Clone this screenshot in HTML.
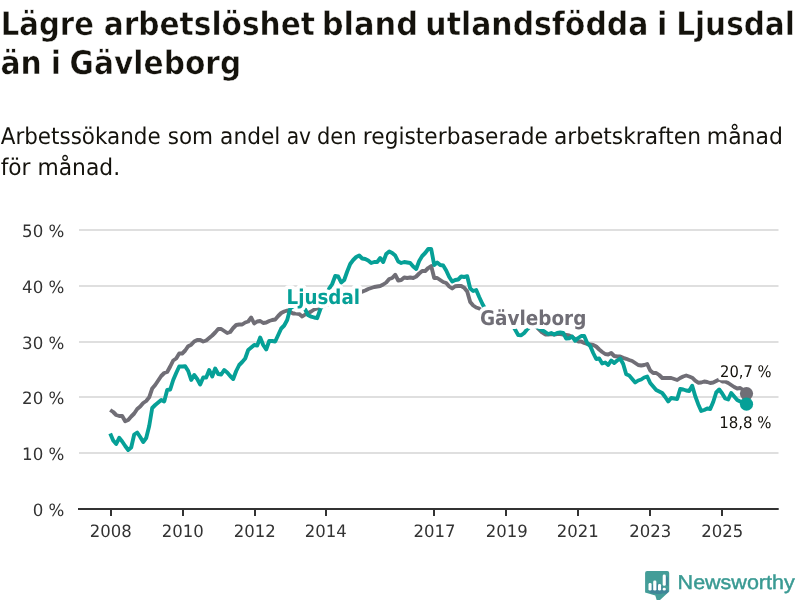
<!DOCTYPE html>
<html lang="sv"><head><meta charset="utf-8"><title>Lägre arbetslöshet bland utlandsfödda i Ljusdal än i Gävleborg</title>
<style>
html,body{margin:0;padding:0;background:#fff;width:800px;height:600px;overflow:hidden}
svg{display:block;will-change:transform;text-rendering:geometricPrecision;font-family:"DejaVu Sans","Liberation Sans",sans-serif}
.title{font-weight:bold;font-size:32.6px;fill:#14120c;stroke:#fff;stroke-width:0.5}
.sub{font-size:23px;fill:#14120c}
.tick{font-size:17px;fill:#333}
.grid rect{fill:#dfdfdf}
.axis rect{fill:#333}
.ln{fill:none;stroke-width:3.9;stroke-linejoin:round;stroke-linecap:butt}
.lab{font-weight:bold;font-size:20.3px;paint-order:stroke;stroke:#fff;stroke-width:7.8;stroke-linejoin:round}
.ann{font-size:16px;fill:#14120c;paint-order:stroke;stroke:#fff;stroke-width:6.5;stroke-linejoin:round}
.logo{font-family:"Liberation Sans",sans-serif;font-size:20px;fill:#3a9a93;stroke:#3a9a93;stroke-width:0.45}
</style></head><body>
<svg width="800" height="600" viewBox="0 0 800 600">
<g class="grid"><rect x="79" y="452" width="699.5" height="2"/><rect x="79" y="396" width="699.5" height="2"/><rect x="79" y="341" width="699.5" height="2"/><rect x="79" y="285" width="699.5" height="2"/><rect x="79" y="229" width="699.5" height="2"/></g>
<g class="axis"><rect x="78" y="508" width="700.7" height="2"/><rect x="110" y="509" width="2" height="7"/><rect x="182" y="509" width="2" height="7"/><rect x="254" y="509" width="2" height="7"/><rect x="325" y="509" width="2" height="7"/><rect x="433" y="509" width="2" height="7"/><rect x="505" y="509" width="2" height="7"/><rect x="577" y="509" width="2" height="7"/><rect x="649" y="509" width="2" height="7"/><rect x="721" y="509" width="2" height="7"/></g>
<polyline class="ln" stroke="#706e76" points="110.2,410.0 113.2,412.0 116.2,415.0 119.2,416.0 122.2,416.0 125.2,421.2 128.2,420.0 131.2,416.5 134.2,413.5 137.2,409.0 140.2,406.5 143.2,403.0 146.2,401.0 149.2,397.3 152.2,388.5 155.2,385.0 158.2,380.5 161.2,376.0 164.2,373.0 167.2,372.0 170.2,366.5 173.2,360.5 176.2,358.5 179.2,353.5 182.2,353.5 185.2,350.5 188.2,346.2 191.2,344.7 194.2,341.5 197.2,340.0 200.2,340.0 203.2,341.5 206.2,340.5 209.2,338.0 212.2,335.5 215.2,332.5 218.2,329.0 221.2,329.0 224.2,331.0 227.2,333.0 230.2,332.0 233.2,328.0 236.2,325.0 239.2,324.5 242.2,324.5 245.2,322.5 248.2,321.5 251.2,317.5 254.2,323.5 257.2,321.5 260.2,321.0 263.2,323.0 266.2,322.5 269.2,321.0 272.2,320.0 275.2,319.5 278.2,316.0 281.2,313.0 284.2,311.5 287.2,310.5 290.2,312.0 293.2,313.5 296.2,313.5 299.2,314.0 302.2,316.5 305.2,314.5 308.2,313.0 311.2,311.5 314.2,309.5 317.2,308.4 320.2,307.3 323.2,306.1 326.2,305.0 329.2,303.9 332.2,302.8 335.2,301.7 338.2,300.6 341.2,299.4 344.2,298.3 347.2,297.2 350.2,296.1 353.2,295.0 356.2,293.9 359.2,292.7 362.2,291.6 365.2,290.5 368.2,289.0 371.2,288.0 374.2,287.0 377.2,286.5 380.2,286.0 383.2,284.5 386.2,282.5 389.2,279.0 392.2,278.0 395.2,274.7 398.2,280.5 401.2,280.0 404.2,277.5 407.2,278.0 410.2,277.5 413.2,278.0 416.2,276.5 419.2,273.5 422.2,271.0 425.2,271.0 428.2,268.0 431.2,266.0 434.2,278.0 437.2,278.0 440.2,280.0 443.2,282.0 446.2,283.0 449.2,286.5 452.2,288.5 455.2,286.3 458.2,286.0 461.2,286.0 464.2,287.7 467.2,291.5 470.2,302.0 473.2,305.5 476.2,307.5 479.2,308.5 482.2,310.5 485.2,311.4 488.2,312.3 491.2,313.2 494.2,314.1 497.2,314.9 500.2,315.8 503.2,316.7 506.2,317.6 509.2,318.5 512.2,319.4 515.2,320.3 518.2,321.2 521.2,322.1 524.2,322.9 527.2,323.8 530.2,324.7 533.2,325.6 536.2,326.5 539.2,329.5 542.2,332.5 545.2,334.5 548.2,334.5 551.2,334.0 554.2,334.5 557.2,334.0 560.2,334.0 563.2,334.5 566.2,335.0 569.2,335.5 572.2,337.0 575.2,339.0 578.2,341.5 581.2,341.5 584.2,343.0 587.2,344.0 590.2,344.5 593.2,345.0 596.2,346.5 599.2,349.5 602.2,352.0 605.2,354.0 608.2,354.5 611.2,353.0 614.2,356.0 617.2,356.5 620.2,356.5 623.2,357.8 626.2,358.8 629.2,360.0 632.2,361.0 635.2,363.0 638.2,365.0 641.2,365.5 644.2,365.0 647.2,364.0 650.2,370.5 653.2,373.0 656.2,373.0 659.2,375.0 662.2,378.0 665.2,378.0 668.2,378.0 671.2,378.0 674.2,379.0 677.2,380.0 680.2,378.0 683.2,376.5 686.2,375.5 689.2,376.5 692.2,377.7 695.2,380.7 698.2,382.7 701.2,382.5 704.2,381.5 707.2,382.0 710.2,383.0 713.2,382.5 716.2,381.0 719.2,379.5 722.2,381.5 725.2,381.5 728.2,383.0 731.2,385.0 734.2,387.0 737.2,388.5 740.2,388.0 743.2,390.0 746.2,393.0"/>
<polyline class="ln" stroke="#06a097" points="110.2,433.5 113.2,440.5 116.2,444.0 119.2,437.8 122.2,441.5 125.2,446.0 128.2,450.0 131.2,447.5 134.2,434.5 137.2,432.5 140.2,437.0 143.2,442.0 146.2,438.0 149.2,426.0 152.2,408.0 155.2,405.0 158.2,402.5 161.2,400.0 164.2,401.5 167.2,390.0 170.2,389.5 173.2,380.0 176.2,373.0 179.2,366.5 182.2,366.5 185.2,366.2 188.2,371.0 191.2,380.0 194.2,375.0 197.2,379.0 200.2,384.5 203.2,377.5 206.2,377.5 209.2,370.0 212.2,376.5 215.2,368.5 218.2,374.0 221.2,374.5 224.2,370.0 227.2,372.5 230.2,376.0 233.2,379.0 236.2,371.0 239.2,365.0 242.2,362.0 245.2,358.5 248.2,350.0 251.2,347.5 254.2,345.0 257.2,345.5 260.2,337.5 263.2,345.0 266.2,349.5 269.2,341.0 272.2,341.0 275.2,341.5 278.2,335.0 281.2,328.5 284.2,325.5 287.2,320.0 290.2,308.5 293.2,306.5 296.2,306.0 299.2,307.0 302.2,308.0 305.2,309.5 308.2,315.3 311.2,316.6 314.2,317.5 317.2,318.2 320.2,309.5 323.2,303.0 326.2,296.0 329.2,288.5 332.2,284.0 335.2,276.0 338.2,276.5 341.2,282.5 344.2,280.0 347.2,271.5 350.2,264.0 353.2,260.0 356.2,257.0 359.2,255.5 362.2,258.5 365.2,259.0 368.2,260.5 371.2,263.0 374.2,262.0 377.2,262.0 380.2,258.0 383.2,262.0 386.2,254.0 389.2,251.5 392.2,253.0 395.2,255.5 398.2,261.5 401.2,263.0 404.2,262.0 407.2,262.5 410.2,263.0 413.2,266.5 416.2,269.0 419.2,261.0 422.2,256.0 425.2,253.0 428.2,249.0 431.2,249.0 434.2,265.0 437.2,262.5 440.2,265.0 443.2,265.5 446.2,270.5 449.2,277.0 452.2,281.5 455.2,280.0 458.2,279.5 461.2,276.5 464.2,277.0 467.2,276.2 470.2,288.5 473.2,291.0 476.2,290.0 479.2,297.0 482.2,303.5 485.2,309.0 488.2,311.0 491.2,313.0 494.2,315.0 497.2,316.5 500.2,318.0 503.2,319.5 506.2,321.0 509.2,322.5 512.2,324.7 515.2,329.7 518.2,335.0 521.2,335.3 524.2,333.0 527.2,329.3 530.2,326.5 533.2,326.0 536.2,326.5 539.2,328.3 542.2,330.3 545.2,332.0 548.2,334.0 551.2,333.0 554.2,334.5 557.2,333.0 560.2,332.5 563.2,333.0 566.2,338.5 569.2,338.2 572.2,336.5 575.2,340.8 578.2,338.0 581.2,336.0 584.2,336.0 587.2,343.0 590.2,346.0 593.2,353.0 596.2,359.0 599.2,358.5 602.2,363.5 605.2,362.5 608.2,365.0 611.2,360.5 614.2,363.0 617.2,360.5 620.2,358.5 623.2,364.0 626.2,374.2 629.2,375.5 632.2,379.0 635.2,382.5 638.2,380.5 641.2,379.5 644.2,377.5 647.2,376.5 650.2,383.0 653.2,386.5 656.2,390.0 659.2,391.5 662.2,393.0 665.2,397.0 668.2,401.5 671.2,398.0 674.2,398.5 677.2,399.0 680.2,389.0 683.2,389.5 686.2,390.5 689.2,391.0 692.2,385.7 695.2,396.0 698.2,404.2 701.2,411.0 704.2,410.0 707.2,408.5 710.2,409.0 713.2,402.0 716.2,392.5 719.2,389.5 722.2,393.5 725.2,398.5 728.2,399.5 731.2,393.0 734.2,396.5 737.2,400.0 740.2,401.5 743.2,402.0 746.2,404.5"/>
<circle cx="746.5" cy="393.6" r="6.6" fill="#706e76"/>
<circle cx="746.5" cy="404.2" r="6.6" fill="#06a097"/>
<text class="title" x="0.72" y="34.8" textLength="93.17" lengthAdjust="spacingAndGlyphs">Lägre</text>
<text class="title" x="103.67" y="34.8" textLength="211.30" lengthAdjust="spacingAndGlyphs">arbetslöshet</text>
<text class="title" x="321.72" y="34.8" textLength="96.48" lengthAdjust="spacingAndGlyphs">bland</text>
<text class="title" x="425.36" y="34.8" textLength="222.99" lengthAdjust="spacingAndGlyphs">utlandsfödda</text>
<text class="title" x="656.92" y="34.8" textLength="10.42" lengthAdjust="spacingAndGlyphs">i</text>
<text class="title" x="676.19" y="34.8" textLength="118.68" lengthAdjust="spacingAndGlyphs">Ljusdal</text>
<text class="title" x="0.42" y="73.7" textLength="41.30" lengthAdjust="spacingAndGlyphs">än</text>
<text class="title" x="50.77" y="73.7" textLength="10.24" lengthAdjust="spacingAndGlyphs">i</text>
<text class="title" x="69.61" y="73.7" textLength="171.62" lengthAdjust="spacingAndGlyphs">Gävleborg</text>
<text class="sub" x="0.70" y="143.7" textLength="160.03" lengthAdjust="spacingAndGlyphs">Arbetssökande</text>
<text class="sub" x="167.69" y="143.7" textLength="45.41" lengthAdjust="spacingAndGlyphs">som</text>
<text class="sub" x="220.08" y="143.7" textLength="60.28" lengthAdjust="spacingAndGlyphs">andel</text>
<text class="sub" x="286.65" y="143.7" textLength="24.45" lengthAdjust="spacingAndGlyphs">av</text>
<text class="sub" x="316.92" y="143.7" textLength="39.58" lengthAdjust="spacingAndGlyphs">den</text>
<text class="sub" x="362.80" y="143.7" textLength="185.15" lengthAdjust="spacingAndGlyphs">registerbaserade</text>
<text class="sub" x="553.88" y="143.7" textLength="147.07" lengthAdjust="spacingAndGlyphs">arbetskraften</text>
<text class="sub" x="706.78" y="143.7" textLength="76.14" lengthAdjust="spacingAndGlyphs">månad</text>
<text class="sub" x="0.66" y="174.8" textLength="29.91" lengthAdjust="spacingAndGlyphs">för</text>
<text class="sub" x="37.50" y="174.8" textLength="82.57" lengthAdjust="spacingAndGlyphs">månad.</text>
<text class="lab" x="286.57" y="303.9" textLength="73.44" lengthAdjust="spacingAndGlyphs" fill="#06a097">Ljusdal</text>
<text class="lab" x="479.94" y="325.1" textLength="106.45" lengthAdjust="spacingAndGlyphs" fill="#706e76">Gävleborg</text>
<text class="ann" x="720.08" y="376.8" textLength="51.47" lengthAdjust="spacingAndGlyphs">20,7 %</text>
<text class="ann" x="719.37" y="427.8" textLength="52.19" lengthAdjust="spacingAndGlyphs">18,8 %</text>
<text class="logo" x="677.62" y="588.7" textLength="117.08" lengthAdjust="spacingAndGlyphs">Newsworthy</text>
<text class="tick" x="32.65" y="515.9" textLength="31.69" lengthAdjust="spacingAndGlyphs">0 %</text>
<text class="tick" x="22.06" y="460.1" textLength="42.27" lengthAdjust="spacingAndGlyphs">10 %</text>
<text class="tick" x="22.06" y="404.3" textLength="42.27" lengthAdjust="spacingAndGlyphs">20 %</text>
<text class="tick" x="22.06" y="348.5" textLength="42.27" lengthAdjust="spacingAndGlyphs">30 %</text>
<text class="tick" x="22.06" y="292.7" textLength="42.27" lengthAdjust="spacingAndGlyphs">40 %</text>
<text class="tick" x="22.06" y="236.9" textLength="42.27" lengthAdjust="spacingAndGlyphs">50 %</text>
<text class="tick" x="89.71" y="537.0" textLength="41.99" lengthAdjust="spacingAndGlyphs">2008</text>
<text class="tick" x="161.71" y="537.0" textLength="41.99" lengthAdjust="spacingAndGlyphs">2010</text>
<text class="tick" x="233.71" y="537.0" textLength="41.99" lengthAdjust="spacingAndGlyphs">2012</text>
<text class="tick" x="304.71" y="537.0" textLength="41.99" lengthAdjust="spacingAndGlyphs">2014</text>
<text class="tick" x="413.61" y="537.0" textLength="41.99" lengthAdjust="spacingAndGlyphs">2017</text>
<text class="tick" x="485.81" y="537.0" textLength="41.99" lengthAdjust="spacingAndGlyphs">2019</text>
<text class="tick" x="556.71" y="537.0" textLength="41.99" lengthAdjust="spacingAndGlyphs">2021</text>
<text class="tick" x="629.21" y="537.0" textLength="41.99" lengthAdjust="spacingAndGlyphs">2023</text>
<text class="tick" x="701.31" y="537.0" textLength="41.99" lengthAdjust="spacingAndGlyphs">2025</text>
<g id="logo">
<defs><clipPath id="lc"><path d="M647.1 571.1H667.2a2 2 0 0 1 2 2V591.5L659.5 600.5H656.8L655.3 595.6L645.1 592.4V573.1a2 2 0 0 1 2 -2z"/></clipPath></defs>
<path d="M647.1 571.1H667.2a2 2 0 0 1 2 2V591.5L659.5 600.5H656.8L655.3 595.6L645.1 592.4V573.1a2 2 0 0 1 2 -2z" fill="#449d98"/>
<g clip-path="url(#lc)" fill="#3a6f98" opacity="0.5">
<path d="M651.6 584l2.2 2.2v4.4l3 3h-5.500l-2.800-3z"/><path d="M656.4 582l2.200 2.200v6.400l3.500 3.500h-5.500l-3.400-3.500z"/><path d="M661.100 585.500l1.600 1.600v3.500l3 3h-5l-2.700-3z"/><path d="M665.800 575.500l2.200 2.200v8l-2.200-0.500z"/><path d="M665.800 588.500l2 2l1.500 3h-4l-2.600-3z"/>
</g>
<g fill="#fff"><rect x="648.5" y="583" width="3.1" height="7.6" rx="1.4"/><rect x="653.2" y="580.6" width="3.2" height="10" rx="1.4"/><rect x="658" y="584.1" width="3.1" height="6.5" rx="1.4"/><rect x="662.7" y="574.5" width="3.1" height="11.3" rx="1.4"/><rect x="662.7" y="587.7" width="3.1" height="2.9" rx="1.3"/></g>
</g>
</svg>
</body></html>
